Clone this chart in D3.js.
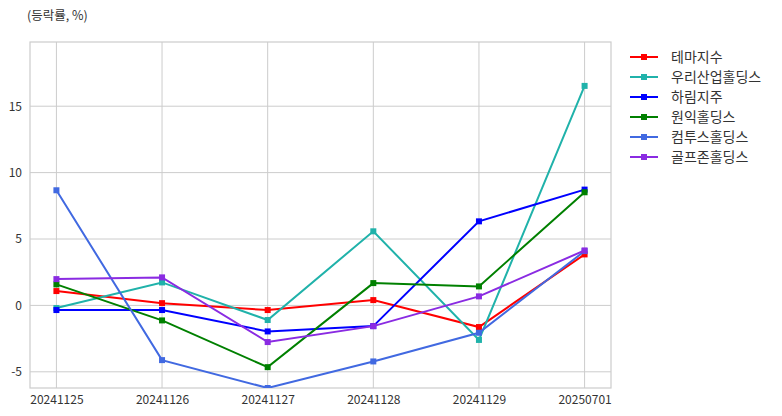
<!DOCTYPE html>
<html><head><meta charset="utf-8">
<script src="https://cdn.jsdelivr.net/npm/d3@7"></script>
<style>body{margin:0;background:#fff;} svg{display:block;}</style>
</head><body>
<svg id="c" width="782" height="416"></svg>
<script>
const dates = ["20241125","20241126","20241127","20241128","20241129","20250701"];
const seriesNames = ["테마지수","우리산업홀딩스","하림지주","원익홀딩스","컴투스홀딩스","골프존홀딩스"];
const seriesColors = ["#ff0000","#20b2aa","#0000ff","#008000","#4169e1","#8a2be2"];
const vTheme = [1.08, 0.17, -0.35, 0.40, -1.63, 3.84];
const vWoori = [-0.20, 1.73, -1.10, 5.58, -2.60, 16.53];
const vHarim = [-0.35, -0.35, -1.96, -1.56, 6.33, 8.72];
const vWonik = [1.58, -1.13, -4.65, 1.68, 1.43, 8.52];
const vCom2us = [8.67, -4.12, -6.22, -4.22, -2.06, 4.09];
const vGolfzon = [1.98, 2.11, -2.76, -1.56, 0.68, 4.14];
const yTicks = [-5, 0, 5, 10, 15];
const allSeries = [vTheme, vWoori, vHarim, vWonik, vCom2us, vGolfzon];

const svg = d3.select("#c");
const L = 30, R = 611, T = 42, B = 388;
const font = "'Noto Sans CJK KR', 'Noto Sans', sans-serif";

const yMin = d3.min(allSeries.flat());
const yMax = d3.max(allSeries.flat()) * 1.2;
const x = d3.scaleLinear().domain([-0.25, dates.length - 0.75]).range([L, R]);
const y = d3.scaleLinear().domain([yMin, yMax]).range([B, T]);

// grid
const g = svg.append("g");
g.selectAll(".vg").data(dates).join("line")
  .attr("x1", (d,i)=>x(i)).attr("x2",(d,i)=>x(i)).attr("y1",T).attr("y2",B)
  .attr("stroke","#cccccc").attr("stroke-width",1);
g.selectAll(".hg").data(yTicks).join("line")
  .attr("x1", L).attr("x2", R).attr("y1", d=>y(d)).attr("y2", d=>y(d))
  .attr("stroke","#cccccc").attr("stroke-width",1);
svg.append("rect").attr("x",L).attr("y",T).attr("width",R-L).attr("height",B-T)
  .attr("fill","none").attr("stroke","#cccccc").attr("stroke-width",1.2);

// axes
const xAxis = d3.axisBottom(x).tickValues(d3.range(dates.length)).tickFormat(i=>dates[i]).tickSize(0).tickPadding(7);
const yAxis = d3.axisLeft(y).tickValues(yTicks).tickFormat(d3.format("d")).tickSize(0).tickPadding(8);
const ax = svg.append("g").attr("transform",`translate(0,${B})`).call(xAxis);
const ay = svg.append("g").attr("transform",`translate(${L},0)`).call(yAxis);
[ax, ay].forEach(a=>{
  a.select(".domain").remove();
  a.selectAll("text").attr("fill","#333").style("font-family",font).style("font-size","12px");
});
ay.selectAll("text").text(d => d < 0 ? "-" + Math.abs(d) : d);

// lines
const clip = svg.append("clipPath").attr("id","clp").append("rect")
  .attr("x",L).attr("y",T).attr("width",R-L).attr("height",B-T);
const line = d3.line().x((d,i)=>x(i)).y(d=>y(d));
const plot = svg.append("g").attr("clip-path","url(#clp)");
allSeries.forEach((vals, si)=>{
  plot.append("path").datum(vals).attr("d", line).attr("fill","none")
    .attr("stroke", seriesColors[si]).attr("stroke-width", 2);
  plot.selectAll(null).data(vals).join("rect")
    .attr("x",(d,i)=>x(i)-3).attr("y",d=>y(d)-3).attr("width",6).attr("height",6)
    .attr("fill", seriesColors[si]);
});

// title
svg.append("text").attr("x",27).attr("y",20).text("(등락률, %)")
  .attr("fill","#333").style("font-family",font).style("font-size","12.5px");

// legend
const lg = svg.append("g");
seriesNames.forEach((n, i)=>{
  const yy = 57 + i*20;
  lg.append("line").attr("x1",630).attr("x2",658).attr("y1",yy).attr("y2",yy)
    .attr("stroke",seriesColors[i]).attr("stroke-width",2);
  lg.append("rect").attr("x",641).attr("y",yy-3).attr("width",6).attr("height",6).attr("fill",seriesColors[i]);
  lg.append("text").attr("x",671).attr("y",yy+5).text(n)
    .attr("fill","#333").style("font-family",font).style("font-size","14px");
});
</script>
</body></html>
